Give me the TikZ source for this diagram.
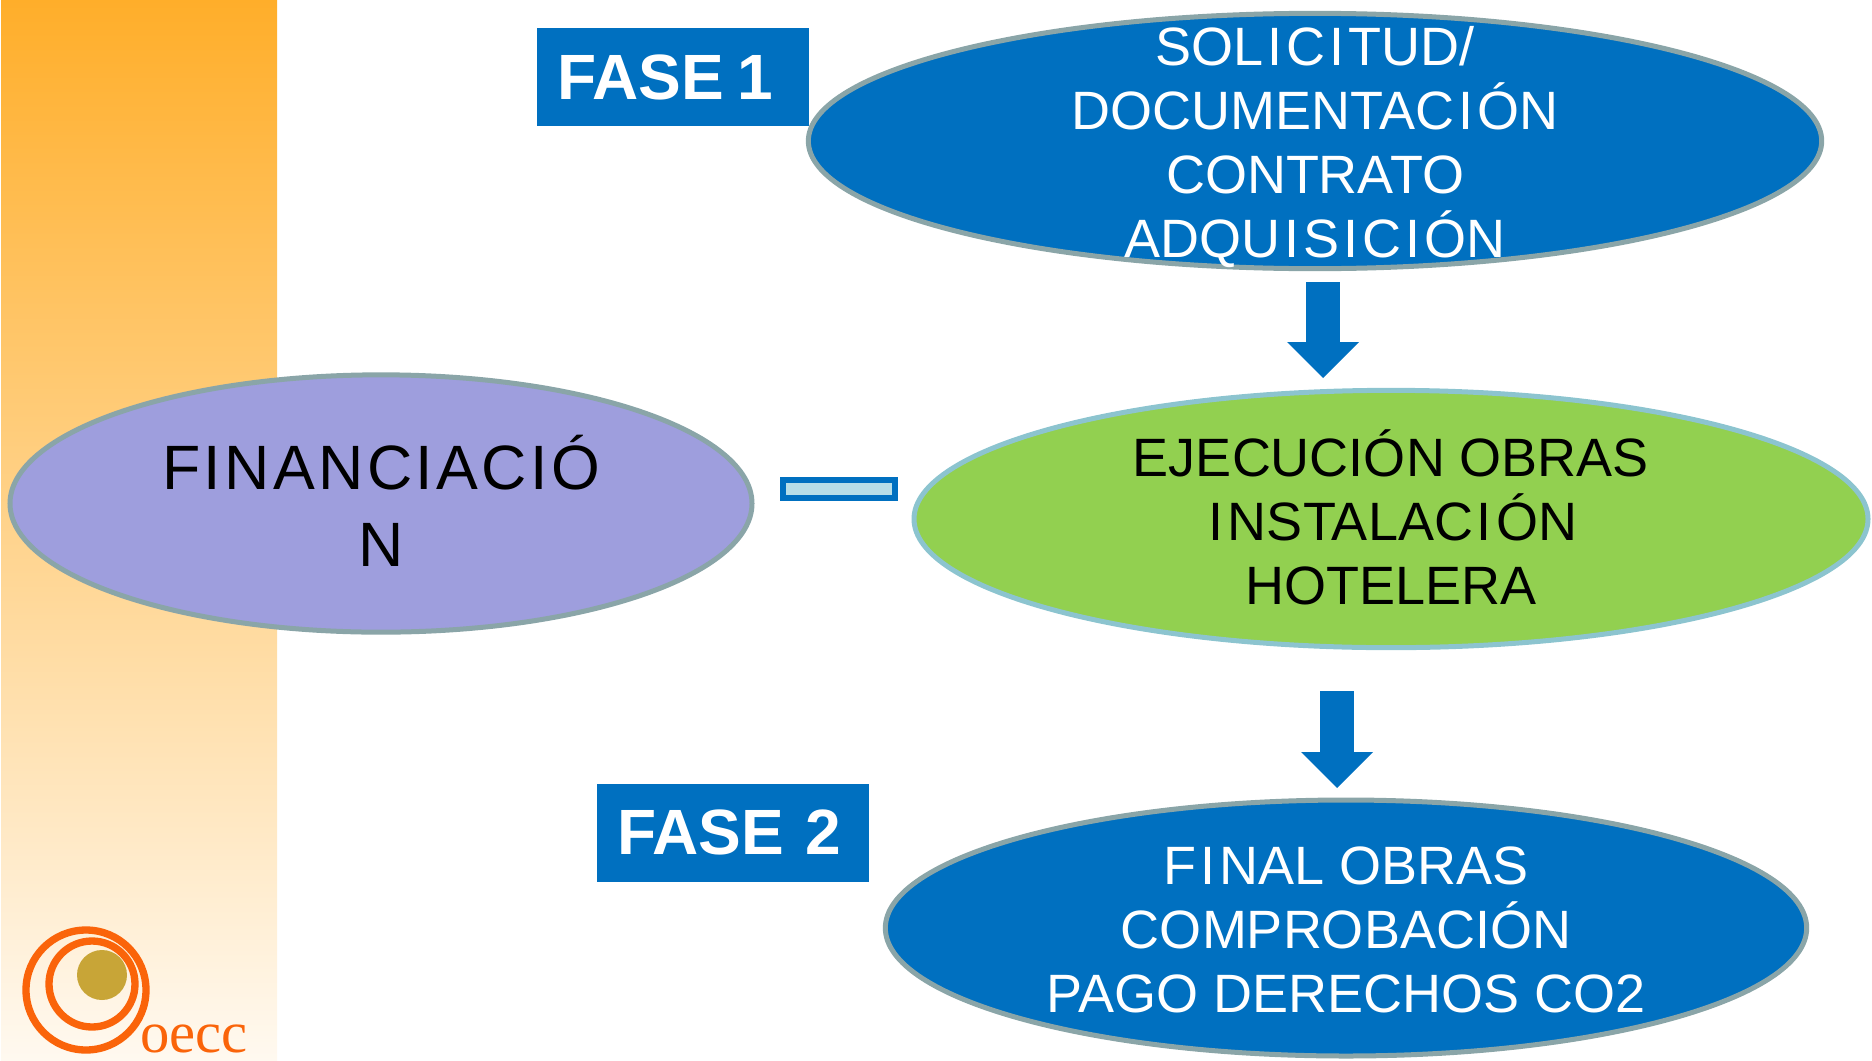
\documentclass[tikz,border=0pt]{standalone}
\usepackage{fontspec}
\setmainfont{Liberation Sans}
\newfontfamily\logofont{Liberation Serif}
\usetikzlibrary{shapes.geometric,arrows.meta}

\definecolor{faseblue}{RGB}{0,112,192}
\definecolor{greyrim}{RGB}{138,165,168}
\definecolor{obragreen}{RGB}{146,208,80}
\definecolor{obrarim}{RGB}{140,196,207}
\definecolor{financelilac}{RGB}{158,158,221}
\definecolor{minusfill}{RGB}{183,222,232}
\definecolor{logoorange}{RGB}{250,100,10}
\definecolor{logogold}{RGB}{200,165,55}

\newcommand{\wideI}{\kern3pt I\kern3pt}

\tikzset{every picture/.style={line width=0.75pt}}
\tikzset{
  stage/.style={ellipse,draw,line width=3.75pt,inner sep=0pt},
  stageblue/.style={stage,fill=faseblue,draw=greyrim},
  stagetext/.style={inner sep=0pt,align=center,font=\fontsize{40.5}{48}\selectfont},
  fasebox/.style={rectangle,fill=faseblue,text=white,inner xsep=15pt,inner ysep=0pt,text width=174pt,align=left,minimum height=73.5pt,font=\fontsize{48}{56}\selectfont\bfseries},
  blockarrow/.style={draw=faseblue,line width=26pt,-{Triangle[length=27pt,width=54pt,line width=0pt,fill=faseblue]}}
}

\begin{document}
\begin{tikzpicture}[x=0.75pt,y=0.75pt,yscale=-1,xscale=1]
\useasboundingbox (0,0) rectangle (1872,1060);

% Side band
\fill [top color={rgb,255:red,255;green,174;blue,42},bottom color={rgb,255:red,255;green,249;blue,240}] (1,0) rectangle (277,1060);

% Logo
\draw [logoorange,line width=5.5pt] (86,990) circle [radius=60];
\draw [logoorange,line width=5.5pt] (92,984) circle [radius=43];
\fill [logogold] (102,975) circle [radius=25];
\node (logotext) [anchor=base west,inner sep=0pt,text=logoorange,font=\fontsize{44}{44}\selectfont\logofont] at (140,1052) {oecc};

% Stages
\node (solicitud) [stageblue,minimum width=760pt,minimum height=191.5pt] at (1315,141) {};
\node (ejecucion) [stage,fill=obragreen,draw=obrarim,minimum width=715.5pt,minimum height=193pt] at (1391,519) {};
\node (financiacion) [stage,fill=financelilac,draw=greyrim,minimum width=556.5pt,minimum height=193pt] at (381,503.5) {};
\node (finalobras) [stageblue,minimum width=691pt,minimum height=192pt] at (1346,928) {};

% Text Node
\node (solicitudtext) [stagetext,text=white] at (1315,147) {SOL\wideI C\wideI TUD/\\DOCUMENTAC\wideI ÓN\\CONTRATO\\ADQU\wideI S\wideI C\wideI ÓN};
% Text Node
\node (ejecuciontext) [stagetext,text=black] at (1391,517) {EJECUCIÓN OBRAS\\\wideI NSTALAC\wideI ÓN\\HOTELERA};
% Text Node
\node (financiaciontext) [stagetext,text=black,font=\fontsize{47}{58}\selectfont\addfontfeature{LetterSpace=5.4}] at (381,501) {FINANCIACIÓ\\N};
% Text Node
\node (finalobrastext) [stagetext,text=white] at (1346,930) {F\wideI NAL OBRAS\\COMPROBACIÓN\\PAGO DERECHOS CO2};

% Fase labels
\node (fase1) [fasebox] at (673,77) {FASE \kern-6pt1};
\node (fase2) [fasebox] at (733,832.5) {FASE 2};

% Minus sign
\node (minus) [rectangle,draw=faseblue,fill=minusfill,line width=4.5pt,minimum width=84pt,minimum height=13.5pt,inner sep=0pt] at (839,489) {};

% Block arrows
\coordinate (arrowa) at (1323,282);
\coordinate (arrowb) at (1323,378);
\coordinate (arrowc) at (1337,691);
\coordinate (arrowd) at (1337,788);
\draw [blockarrow] (arrowa) -- (arrowb);
\draw [blockarrow] (arrowc) -- (arrowd);

\end{tikzpicture}
\end{document}
